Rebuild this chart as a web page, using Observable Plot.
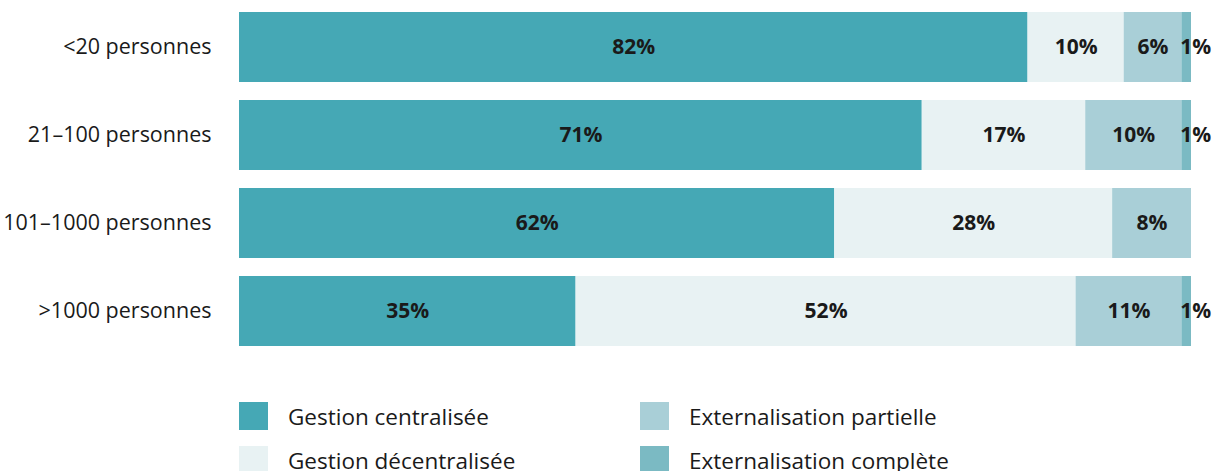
<!DOCTYPE html>
<html>
<head>
<meta charset="utf-8">
<script src="https://cdn.jsdelivr.net/npm/d3@7"></script>
<script src="https://cdn.jsdelivr.net/npm/@observablehq/plot@0.6"></script>
<style>
  body { margin: 0; background: #fff; font-family: "Open Sans", sans-serif; color: #1a1a1a; }
  #chart svg { display: block; }
  .legend { display: grid; grid-template-columns: 401px 401px; margin-left: 239px; margin-top: 42px; row-gap: 16px; }
  .item { display: flex; align-items: center; height: 28px; font-size: 22.5px; white-space: nowrap; }
  .sw { width: 29px; height: 28px; margin-right: 20px; flex: none; }
</style>
</head>
<body>
<div id="chart"></div>
<div class="legend" id="legend"></div>
<script>
const groups = ["<20 personnes", "21–100 personnes", "101–1000 personnes", ">1000 personnes"];
const series = ["Gestion centralisée", "Gestion décentralisée", "Externalisation partielle", "Externalisation complète"];
const colors = ["#45a8b5", "#e8f2f3", "#a9cfd7", "#7bbac3"];
// values per group (share, %)
const centralisee   = [82, 71, 61.9, 35];
const decentralisee = [10, 17, 28.9, 52];
const partielle     = [6, 10, 8.2, 11];
const complete      = [1, 1, 0, 1];
// printed labels
const labCentralisee   = ["82%", "71%", "62%", "35%"];
const labDecentralisee = ["10%", "17%", "28%", "52%"];
const labPartielle     = ["6%", "10%", "8%", "11%"];
const labComplete      = ["1%", "1%", "", "1%"];

const vals = [centralisee, decentralisee, partielle, complete];
const labs = [labCentralisee, labDecentralisee, labPartielle, labComplete];
const data = [];
groups.forEach((g, gi) => {
  series.forEach((s, si) => {
    data.push({group: g, series: s, value: vals[si][gi], label: labs[si][gi]});
  });
});

const chart = Plot.plot({
  width: 1220,
  height: 360,
  marginLeft: 239,
  marginRight: 29,
  marginTop: 11,
  marginBottom: 12.5,
  style: {fontFamily: "'Open Sans', sans-serif", fontSize: "21.5px", color: "#1a1a1a", background: "#fff"},
  x: {domain: [0, 99], axis: null},
  y: {domain: groups, paddingInner: 0.2, paddingOuter: 0, label: null},
  color: {domain: series, range: colors},
  marks: [
    Plot.axisY({tickSize: 0, tickPadding: 28, fontSize: 21.5, fill: "#1a1a1a", label: null}),
    Plot.barX(data, Plot.stackX({y: "group", x: "value", fill: "series", order: null})),
    Plot.text(data, Plot.stackX({y: "group", x: "value", z: "series", order: null,
      text: d => d.value >= 2 ? d.label : null,
      fontWeight: "bold", fontSize: 21, fill: "#1a1a1a"})),
    Plot.text(data, Plot.stackX({y: "group", x: "value", z: "series", order: null,
      text: d => d.value > 0 && d.value < 2 ? d.label : null,
      dx: 9, fontWeight: "bold", fontSize: 21, fill: "#1a1a1a"}))
  ]
});
document.getElementById("chart").appendChild(chart);

const legend = document.getElementById("legend");
// column-major order: col1 = centralisée, décentralisée; col2 = partielle, complète
const orderIdx = [0, 2, 1, 3];
orderIdx.forEach(i => {
  const it = document.createElement("div");
  it.className = "item";
  const sw = document.createElement("span");
  sw.className = "sw";
  sw.style.background = colors[i];
  it.appendChild(sw);
  it.appendChild(document.createTextNode(series[i]));
  legend.appendChild(it);
});
</script>
</body>
</html>
